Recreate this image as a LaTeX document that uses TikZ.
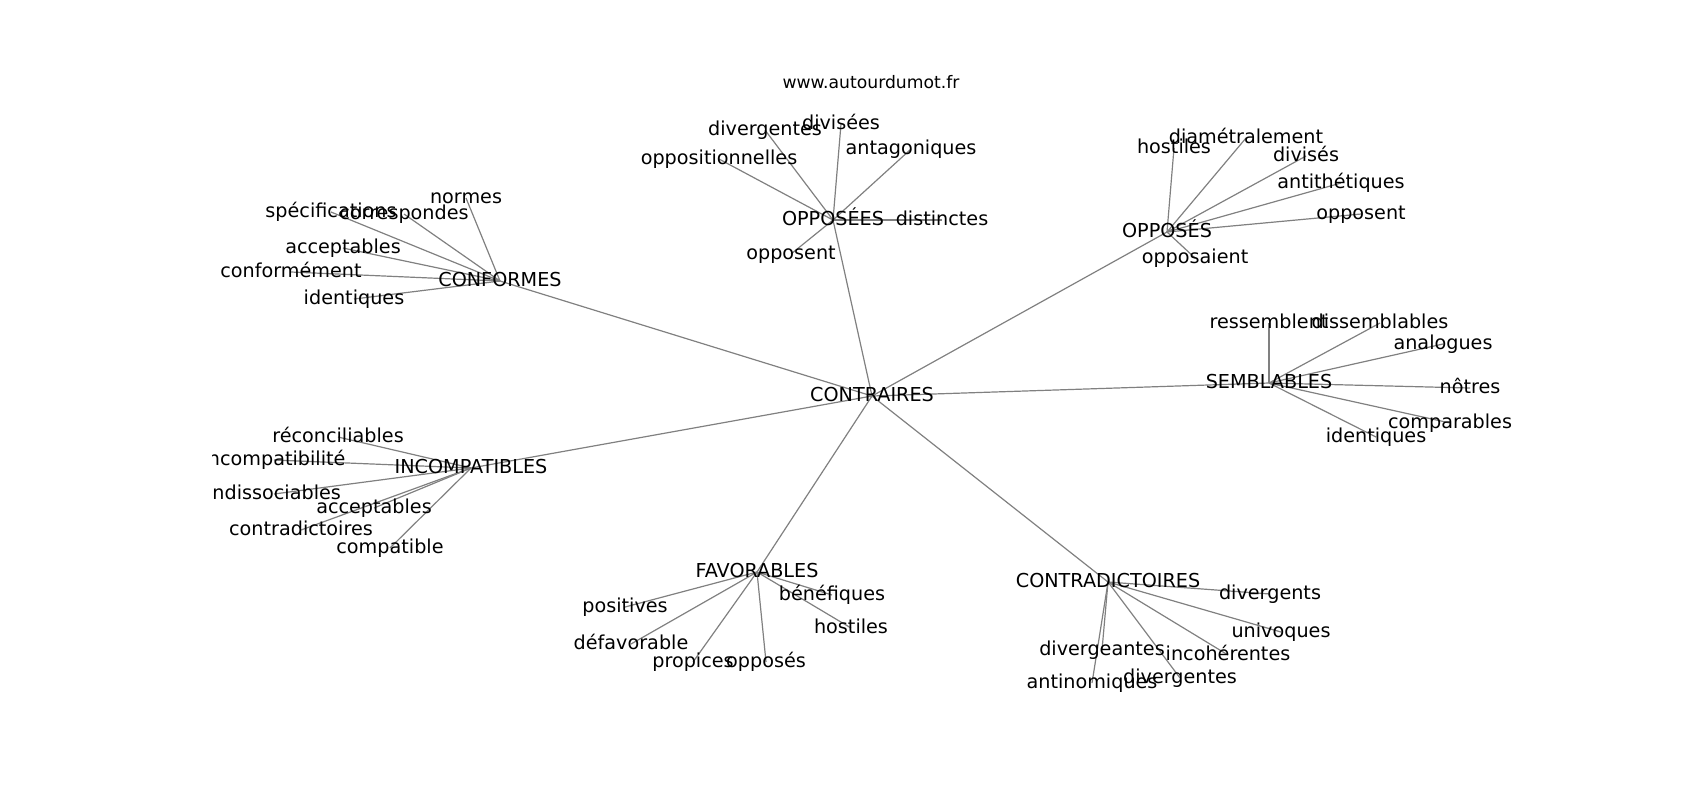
\documentclass[tikz,border=0pt]{standalone}
\usepackage{fontspec}
\setmainfont{DejaVu Sans}
\usepackage{tikz}
\usetikzlibrary{backgrounds}

\begin{document}
\begin{tikzpicture}[x=0.5pt, y=-0.5pt,
    word/.style={font=\fontsize{9.6}{11}\selectfont, inner sep=0pt, text height=0.76em, text depth=0.24em},
    link/.style={draw=gray, line width=0.6pt}]
  \useasboundingbox (0,0) rectangle (1700,800);

  % the site name
  \node[font=\fontsize{8.6}{10}\selectfont] (site) at (871,82) {www.autourdumot.fr};

  \begin{scope}
    \clip (212.5,96) rectangle (1530,712);

    % the hubs
    \node[word] (contraires) at (872,396) {CONTRAIRES};
    \node[word] (conformes) at (500,281) {CONFORMES};
    \node[word] (opposees) at (833,220) {OPPOSÉES};
    \node[word] (opposes) at (1167,232) {OPPOSÉS};
    \node[word] (semblables) at (1269,383) {SEMBLABLES};
    \node[word] (incompatibles) at (471,468) {INCOMPATIBLES};
    \node[word] (favorables) at (757,572) {FAVORABLES};
    \node[word] (contradictoires) at (1108,582) {CONTRADICTOIRES};

    % the words round CONFORMES
    \node[word] (normes) at (466,198) {normes};
    \node[word] (specifications) at (331,212) {spécifications};
    \node[word] (correspondes) at (404,214) {correspondes};
    \node[word] (acceptablesCf) at (343,248) {acceptables};
    \node[word] (conformement) at (291,272) {conformément};
    \node[word] (identiquesCf) at (354,299) {identiques};

    % the words round INCOMPATIBLES
    \node[word] (reconciliables) at (338,437) {réconciliables};
    \node[word] (incompatibilite) at (274,460) {incompatibilité};
    \node[word] (indissociables) at (274,494) {indissociables};
    \node[word] (acceptablesIc) at (374,508) {acceptables};
    \node[word] (contradictoiresIc) at (301,530) {contradictoires};
    \node[word] (compatible) at (390,548) {compatible};

    % the words round OPPOSÉES
    \node[word] (divergentesOe) at (765,130) {divergentes};
    \node[word] (divisees) at (841,124) {divisées};
    \node[word] (antagoniques) at (911,149) {antagoniques};
    \node[word] (oppositionnelles) at (719,159) {oppositionnelles};
    \node[word] (distinctes) at (942,220) {distinctes};
    \node[word] (opposentOe) at (791,254) {opposent};

    % the words round OPPOSÉS
    \node[word] (hostilesOs) at (1174,148) {hostiles};
    \node[word] (diametralement) at (1246,138) {diamétralement};
    \node[word] (divises) at (1306,156) {divisés};
    \node[word] (antithetiques) at (1341,183) {antithétiques};
    \node[word] (opposentOs) at (1361,214) {opposent};
    \node[word] (opposaient) at (1195,258) {opposaient};

    % the words round SEMBLABLES
    \node[word] (ressemblent) at (1269,323) {ressemblent};
    \node[word] (dissemblables) at (1380,323) {dissemblables};
    \node[word] (analogues) at (1443,344) {analogues};
    \node[word] (notres) at (1470,388) {nôtres};
    \node[word] (comparables) at (1450,423) {comparables};
    \node[word] (identiquesSb) at (1376,437) {identiques};

    % the words round FAVORABLES
    \node[word] (benefiques) at (832,595) {bénéfiques};
    \node[word] (hostilesFv) at (851,628) {hostiles};
    \node[word] (positives) at (625,607) {positives};
    \node[word] (defavorable) at (631,644) {défavorable};
    \node[word] (propices) at (693,662) {propices};
    \node[word] (opposesFv) at (766,662) {opposés};

    % the words round CONTRADICTOIRES
    \node[word] (divergents) at (1270,594) {divergents};
    \node[word] (univoques) at (1281,632) {univoques};
    \node[word] (divergeantes) at (1102,650) {divergeantes};
    \node[word] (incoherentes) at (1228,655) {incohérentes};
    \node[word] (divergentesCd) at (1180,678) {divergentes};
    \node[word] (antinomiques) at (1092,683) {antinomiques};
  \end{scope}

  % the links, under the words
  \begin{scope}[on background layer]
    \foreach \hub in {conformes,opposees,opposes,semblables,incompatibles,favorables,contradictoires}
      \draw[link] (contraires.center) -- (\hub.center);
    \foreach \w in {normes,specifications,correspondes,acceptablesCf,conformement,identiquesCf}
      \draw[link] (conformes.center) -- (\w.center);
    \foreach \w in {reconciliables,incompatibilite,indissociables,acceptablesIc,contradictoiresIc,compatible}
      \draw[link] (incompatibles.center) -- (\w.center);
    \foreach \w in {divergentesOe,divisees,antagoniques,oppositionnelles,distinctes,opposentOe}
      \draw[link] (opposees.center) -- (\w.center);
    \foreach \w in {hostilesOs,diametralement,divises,antithetiques,opposentOs,opposaient}
      \draw[link] (opposes.center) -- (\w.center);
    \foreach \w in {ressemblent,dissemblables,analogues,notres,comparables,identiquesSb}
      \draw[link] (semblables.center) -- (\w.center);
    \foreach \w in {benefiques,hostilesFv,positives,defavorable,propices,opposesFv}
      \draw[link] (favorables.center) -- (\w.center);
    \foreach \w in {divergents,univoques,divergeantes,incoherentes,divergentesCd,antinomiques}
      \draw[link] (contradictoires.center) -- (\w.center);
  \end{scope}
\end{tikzpicture}
\end{document}
